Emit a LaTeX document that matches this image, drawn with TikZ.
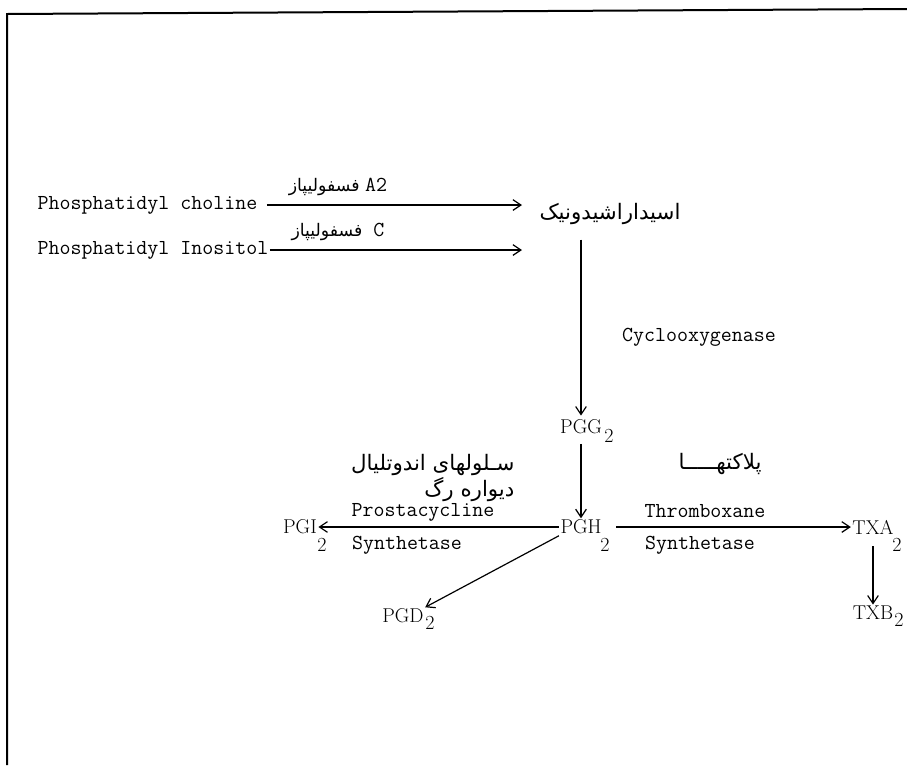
\documentclass[tikz,border=0pt]{standalone}
\usepackage{fontspec}
\usetikzlibrary{arrows.meta}
\newfontfamily\farsi[Script=Arabic]{DejaVu Sans}
\TeXXeTstate=1
\newcommand\monotxt{\fontsize{16}{19}\selectfont\ttfamily}

\begin{document}
\begin{tikzpicture}[x=0.75pt,y=-0.75pt,
  lbl/.style={font=\monotxt, inner sep=1pt},
  chem/.style={font=\fontsize{15}{17}\selectfont, inner sep=1pt},
  fa/.style={font=\fontsize{13}{16}\selectfont\farsi, inner sep=1pt},
  bigfa/.style={font=\fontsize{16}{16}\selectfont\farsi, inner sep=1pt},
  conn/.style={-{Straight Barb[length=6pt,width=8pt]}, line width=0.9pt}]
  \useasboundingbox (0,0) rectangle (907,765);
  \draw[line width=1.5pt] (907,9) -- (7,14) -- (7,765);

  \node[lbl, anchor=west] (pc) at (36,205) {Phosphatidyl choline};
  \node[lbl, anchor=west] (pi) at (36,250) {Phosphatidyl Inositol};
  \coordinate (pcend) at (522,205);
  \coordinate (piend) at (522,250);
  \node[fa] (pla) at (338,187) {\beginR فسفولیپاز\endR\ {\monotxt A2}};
  \node[fa] (plc) at (338,232) {\beginR فسفولیپاز\endR\ \ {\monotxt C}};
  \node[bigfa] (aa) at (610,214) {\beginR اسیداراشیدونیک\endR};
  \node[lbl] (cox) at (699,337) {Cyclooxygenase};

  \node[chem] (pgg) at (581,427) {PGG};
  \node[chem] (pgg2) at (609,436) {2};
  \node[chem] (pgh) at (581,527) {PGH};
  \node[chem] (pgh2) at (605,545) {2};
  \node[chem] (pgi) at (300,527) {PGI};
  \node[chem] (pgi2) at (322,545) {2};
  \node[chem] (txa) at (873,527) {TXA};
  \node[chem] (txa2) at (897,545) {2};
  \node[chem] (txb) at (873,613) {TXB};
  \node[chem] (txb2) at (899,620) {2};
  \node[chem] (pgd) at (403,616) {PGD};
  \node[chem] (pgd2) at (430,623) {2};

  \node[bigfa, align=right, anchor=east] (endo) at (516,478) {\beginR سـلولهای اندوتلیال\endR\\\beginR دیواره رگ\endR};
  \node[bigfa] (plt) at (720,464) {\beginR پلاکتهـــــا\endR};
  \node[lbl] (pcs) at (423,512) {Prostacycline};
  \node[lbl] (pgis) at (407,545) {Synthetase};
  \node[lbl] (txs) at (705,511) {Thromboxane};
  \node[lbl] (txss) at (700,545) {Synthetase};

  \draw[conn, shorten <=6pt] (pc.east) -- (pcend);
  \draw[conn] (pi.east) -- (piend);
  \draw[conn, shorten <=10pt, shorten >=2pt] (aa.south -| pgg) -- (pgg);
  \draw[conn, shorten <=6pt] (pgg) -- (pgh);
  \draw[conn] (pgh) -- (pgi);
  \draw[conn, shorten <=10pt] (pgh) -- (txa);
  \draw[conn, shorten <=8pt] (txa) -- (txb);
  \draw[conn] (pgh.south west) -- (pgd.north east);
\end{tikzpicture}
\end{document}
